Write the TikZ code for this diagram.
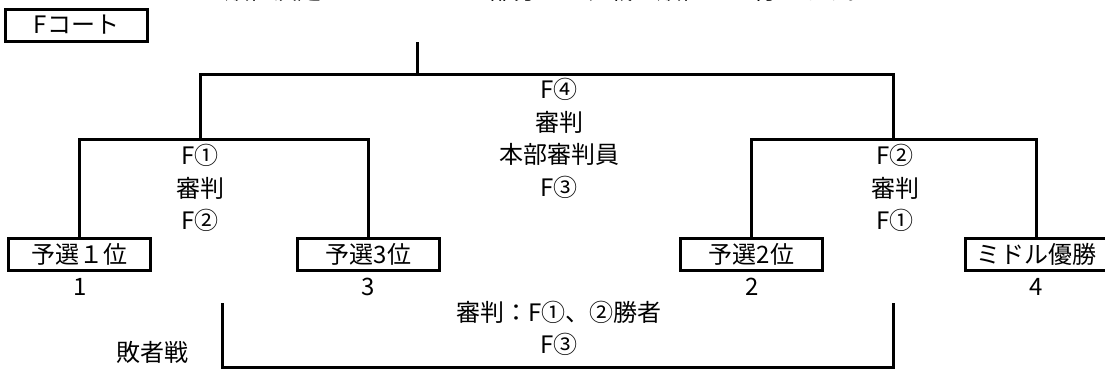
\documentclass[tikz,border=0pt]{standalone}
\usepackage{fontspec}
\setmainfont{Noto Sans CJK JP}

\tikzset{
	bracket/.style = {line width = 3pt},
	slot/.style = {draw, line width = 3pt, minimum width = 142pt, minimum height = 32pt, inner sep = 0pt},
	lbl/.style = {inner sep = 0pt, align = center, font = \fontsize{24}{32.5}\selectfont},
}

\begin{document}
\begin{tikzpicture}[x = 1pt, y = -1pt, font = \fontsize{24}{32.5}\selectfont]
	\useasboundingbox (0, 0) rectangle (1105, 370);
	\begin{scope}
		\clip (0, 0) rectangle (1105, 370);
		\node[lbl, anchor = base west] (note) at (225, -0.5) {順位決定トーナメントは部分リーグ戦の順位にて行います。};
		\node[slot] (mid) at (1036, 254.5) {ミドル優勝};
	\end{scope}
	
	\node[slot] (court) at (76.5, 25) {Fコート};
	
	\node[slot] (p1) at (79.5, 254.5) {予選１位};
	\node[slot] (p3) at (368.5, 254.5) {予選3位};
	\node[slot] (p2) at (751.5, 254.5) {予選2位};
	
	\node[lbl] (n1) at (80, 287) {1};
	\node[lbl] (n3) at (368, 287) {3};
	\node[lbl] (n2) at (752, 287) {2};
	\node[lbl] (n4) at (1036, 287) {4};
	
	\coordinate (root) at (417, 42);
	\coordinate (fl) at (200, 74);
	\coordinate (fr) at (893, 74);
	\coordinate (sl) at (200, 139);
	\coordinate (sr) at (893, 139);
	
	\draw[bracket] (root) -- (root |- fl);
	\draw[bracket] (sl) -- (fl) -- (fr) -- (sr);
	\draw[bracket] (p1.north) |- (sl) -| (p3.north);
	\draw[bracket] (p2.north) |- (sr) -| (mid.north);
	
	\node[lbl] (ref1) at (200, 188) {F①\\審判\\F②};
	\node[lbl] (ref2) at (895, 188) {F②\\審判\\F①};
	\node[lbl] (ref4) at (559, 138.5) {F④\\審判\\本部審判員\\F③};
	
	% loser match
	\coordinate (ll) at (222, 303);
	\coordinate (lr) at (893, 303);
	\draw[bracket] (ll) -- ++(0, 64) -| (lr);
	\node[lbl] (ref3) at (559, 328.5) {審判：F①、②勝者\\F③};
	\node[lbl] (loser) at (152, 352) {敗者戦};
\end{tikzpicture}
\end{document}
